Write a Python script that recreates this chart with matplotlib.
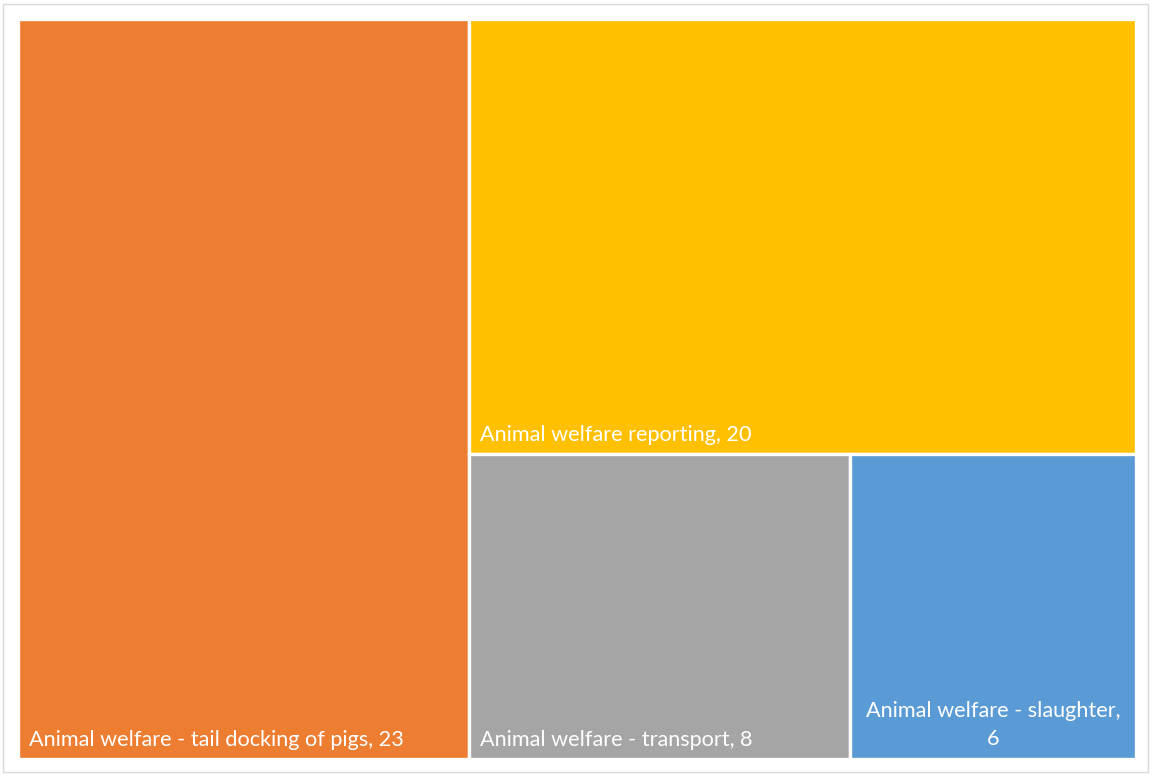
import matplotlib
matplotlib.use("Agg")
import matplotlib.pyplot as plt
from matplotlib.patches import Rectangle

# Treemap data
categories = [
    "Animal welfare - tail docking of pigs",
    "Animal welfare reporting",
    "Animal welfare - transport",
    "Animal welfare - slaughter",
]
values = [23, 20, 8, 6]
colors = ["#ED7D31", "#FFC000", "#A5A5A5", "#5B9BD5"]

W_PX, H_PX = 1152, 775
DPI = 100


def worst(row, side):
    s = sum(row)
    return max(max(side * side * r / (s * s), (s * s) / (side * side * r)) for r in row)


def layout_row(row, x, y, w, h):
    s = sum(row)
    rects = []
    if w >= h:
        # column on the left, stacked vertically
        cw = s / h
        cy = y + h
        for r in row:
            rh = r / cw
            cy -= rh
            rects.append((x, cy, cw, rh))
        return rects, (x + cw, y, w - cw, h)
    else:
        # row along the top, laid out horizontally
        rh = s / w
        cx = x
        for r in row:
            rw = r / rh
            rects.append((cx, y + h - rh, rw, rh))
            cx += rw
        return rects, (x, y, w, h - rh)


def squarify(vals, x, y, w, h):
    total = sum(vals)
    areas = [v * w * h / total for v in vals]
    rects = []
    row = []
    rest = (x, y, w, h)
    i = 0
    while i < len(areas):
        side = min(rest[2], rest[3])
        a = areas[i]
        if not row or worst(row + [a], side) <= worst(row, side):
            row.append(a)
            i += 1
        else:
            r, rest = layout_row(row, *rest)
            rects += r
            row = []
    if row:
        r, rest = layout_row(row, *rest)
        rects += r
    return rects


fig = plt.figure(figsize=(W_PX / DPI, H_PX / DPI), dpi=DPI)
fig.patch.set_facecolor("white")

# light chart-area border
fig.add_artist(Rectangle((3 / W_PX, 3 / H_PX), (W_PX - 7) / W_PX, (H_PX - 7) / H_PX,
                         transform=fig.transFigure, fill=False,
                         edgecolor="#D9D9D9", linewidth=1.0))

left, right, top, bottom = 18, 1136, 19, 759
aw, ah = right - left, bottom - top
ax = fig.add_axes([left / W_PX, 1 - bottom / H_PX, aw / W_PX, ah / H_PX])
ax.set_xlim(0, aw)
ax.set_ylim(0, ah)
ax.axis("off")

rects = squarify(values, 0, 0, aw, ah)
fig.canvas.draw()
renderer = fig.canvas.get_renderer()

font = dict(family=["Lato", "DejaVu Sans"], size=15.6, color="white")


def text_width(s):
    t = ax.text(0, 0, s, **font)
    wdt = t.get_window_extent(renderer).width
    t.remove()
    return wdt


def wrap_to_width(s, maxw):
    lines, cur = [], ""
    for word in s.split(" "):
        trial = word if not cur else cur + " " + word
        if cur and text_width(trial) > maxw:
            lines.append(cur)
            cur = word
        else:
            cur = trial
    lines.append(cur)
    return "\n".join(lines)


for (x, y, w, h), cat, val, col in zip(rects, categories, values, colors):
    ax.add_patch(Rectangle((x, y), w, h, facecolor=col, edgecolor="white", linewidth=2.4))
    label = f"{cat}, {val}"
    if text_width(label) <= w - 22:
        ax.text(x + 11, y + 19, label, ha="left", va="center", **font)
    else:
        wrapped = wrap_to_width(label, w - 22)
        ax.text(x + w / 2, y + 10, wrapped, ha="center", va="bottom",
                linespacing=1.5, multialignment="center", **font)

fig.savefig("out.png", dpi=DPI, facecolor="white")
